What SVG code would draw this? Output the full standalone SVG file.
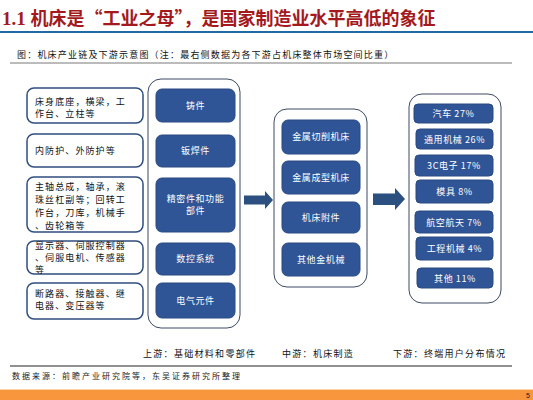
<svg xmlns="http://www.w3.org/2000/svg" width="533" height="400" viewBox="0 0 533 400">
<style>
.cjk{font-family:"Noto Sans CJK SC","Liberation Sans",sans-serif}
.cont{fill:#fff;stroke:#3d4a63;stroke-width:1}
.wbox{fill:#fff;stroke:#2f4e7e;stroke-width:1.5}
.bbox{fill:#2f5597;stroke:#2a4a82;stroke-width:1}
.wt{font-size:9px;fill:#111;letter-spacing:1.1px}
.bt{font-size:9px;fill:#fff;text-anchor:middle;letter-spacing:0.6px}
.arr{fill:#2b4f7f}
</style>
<rect x="0" y="0" width="533" height="400" fill="#fff"/>
<text x="2" y="25" font-family="Liberation Serif, serif" font-weight="bold" font-size="19" fill="#a3191e">1.1 <tspan class="cjk" font-size="18">机床是“工业之母”，是国家制造业水平高低的象征</tspan></text>
<rect x="0" y="31" width="533" height="2" fill="#1f6aa5"/>
<text x="17" y="58" class="cjk" font-size="9" letter-spacing="1.2" fill="#111">图：机床产业链及下游示意图（注：最右侧数据为各下游占机床整体市场空间比重）</text>
<line x1="10" y1="63" x2="512" y2="63" stroke="#555" stroke-width="0.8"/>

<g id="upstream-materials" class="cjk">
<rect class="wbox" x="27" y="88" width="116" height="35" rx="7"/>
<text class="wt" x="35" y="105">床身底座，横梁，工</text>
<text class="wt" x="35" y="117">作台、立柱等</text>
<rect class="wbox" x="27" y="134" width="116" height="33" rx="7"/>
<text class="wt" x="35" y="154">内防护、外防护等</text>
<rect class="wbox" x="27" y="177" width="116" height="55" rx="7"/>
<text class="wt" x="35" y="190">主轴总成，轴承，滚</text>
<text class="wt" x="35" y="203">珠丝杠副等；回转工</text>
<text class="wt" x="35" y="216">作台，刀库，机械手</text>
<text class="wt" x="35" y="229">、齿轮箱等</text>
<rect class="wbox" x="27" y="241" width="116" height="33" rx="7"/>
<text class="wt" x="35" y="249">显示器、伺服控制器</text>
<text class="wt" x="35" y="261">、伺服电机、传感器</text>
<text class="wt" x="35" y="273">等</text>
<rect class="wbox" x="27" y="283" width="116" height="36" rx="7"/>
<text class="wt" x="35" y="297">断路器、接触器、继</text>
<text class="wt" x="35" y="309">电器、变压器等</text>
</g>

<g id="upstream-parts" class="cjk">
<rect class="cont" x="148" y="79" width="92" height="249" rx="13"/>
<rect class="bbox" x="156" y="89" width="79" height="33" rx="6"/>
<text class="bt" x="195.5" y="109">铸件</text>
<rect class="bbox" x="156" y="135" width="79" height="32" rx="6"/>
<text class="bt" x="195.5" y="154">钣焊件</text>
<rect class="bbox" x="156" y="178" width="79" height="54" rx="6"/>
<text class="bt" x="195.5" y="202">精密件和功能</text>
<text class="bt" x="195.5" y="214">部件</text>
<rect class="bbox" x="156" y="243" width="79" height="32" rx="6"/>
<text class="bt" x="195.5" y="262">数控系统</text>
<rect class="bbox" x="156" y="283" width="79" height="35" rx="6"/>
<text class="bt" x="195.5" y="304">电气元件</text>
</g>

<g id="midstream" class="cjk">
<rect class="cont" x="274" y="109" width="93" height="178" rx="13"/>
<rect class="bbox" x="282" y="120" width="78" height="34" rx="6"/>
<text class="bt" x="321" y="140">金属切削机床</text>
<rect class="bbox" x="282" y="161" width="78" height="33" rx="6"/>
<text class="bt" x="321" y="181">金属成型机床</text>
<rect class="bbox" x="282" y="202" width="78" height="31" rx="6"/>
<text class="bt" x="321" y="221">机床附件</text>
<rect class="bbox" x="282" y="243" width="78" height="33" rx="6"/>
<text class="bt" x="321" y="263">其他金机械</text>
</g>

<g id="downstream" class="cjk">
<rect class="cont" x="409" y="94" width="92" height="209" rx="13"/>
<rect class="bbox" x="414" y="104" width="79" height="19" rx="4"/>
<text class="bt" x="453.5" y="117">汽车 27%</text>
<rect class="bbox" x="416" y="129" width="77" height="20" rx="4"/>
<text class="bt" x="454.5" y="142.5">通用机械 26%</text>
<rect class="bbox" x="415" y="155" width="78" height="21" rx="4"/>
<text class="bt" x="454" y="169">3C电子 17%</text>
<rect class="bbox" x="416" y="180" width="77" height="23" rx="4"/>
<text class="bt" x="454.5" y="195">模具 8%</text>
<rect class="bbox" x="415" y="211" width="78" height="22" rx="4"/>
<text class="bt" x="454" y="225.5">航空航天 7%</text>
<rect class="bbox" x="416" y="237" width="77" height="23" rx="4"/>
<text class="bt" x="454.5" y="252">工程机械 4%</text>
<rect class="bbox" x="417" y="268" width="76" height="20" rx="4"/>
<text class="bt" x="455" y="281.5">其他 11%</text>
</g>

<g id="connectors">
<polygon class="arr" points="244,195.5 265,195.5 265,191 273,200 265,209 265,204.5 244,204.5"/>
<polygon class="arr" points="373,193.5 395,193.5 395,188 405,199 395,210 395,205 373,205"/>
</g>

<g class="cjk" font-size="9" fill="#111" letter-spacing="1.3">
<text x="143" y="357">上游：基础材料和零部件</text>
<text x="282" y="357">中游：机床制造</text>
<text x="393" y="357">下游：终端用户分布情况</text>
</g>
<line x1="10" y1="366" x2="512" y2="366" stroke="#222" stroke-width="1"/>
<text x="12" y="379" class="cjk" font-size="8" letter-spacing="2" fill="#222">数据来源：前瞻产业研究院等，东吴证券研究所整理</text>
<rect x="0" y="390" width="533" height="10" fill="#f7963c"/>
<rect x="0" y="389" width="533" height="1" fill="#fbd3a8"/>
<text x="526" y="398" font-family="Liberation Sans, sans-serif" font-size="7" fill="#222">5</text>
</svg>
